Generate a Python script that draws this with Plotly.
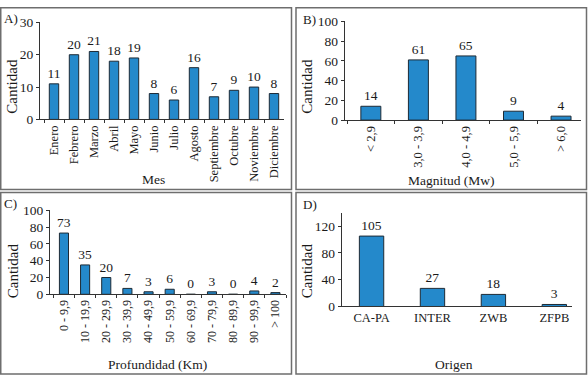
import plotly.graph_objects as go

W, H = 588, 383

# ---- data ----
meses = ["Enero", "Febrero", "Marzo", "Abril", "Mayo", "Junio", "Julio", "Agosto",
         "Septiembre", "Octubre", "Noviembre", "Diciembre"]
cant_mes = [11, 20, 21, 18, 19, 8, 6, 16, 7, 9, 10, 8]

magnitudes = ["< 2,9", "3,0 - 3,9", "4,0 - 4,9", "5,0 - 5,9", "> 6,0"]
cant_mag = [14, 61, 65, 9, 4]

profundidades = ["0 - 9,9", "10 - 19,9", "20 - 29,9", "30 - 39,9", "40 - 49,9", "50 - 59,9",
                 "60 - 69,9", "70 - 79,9", "80 - 89,9", "90 - 99,9", "> 100"]
cant_prof = [73, 35, 20, 7, 3, 6, 0, 3, 0, 4, 2]

origenes = ["CA-PA", "INTER", "ZWB", "ZFPB"]
cant_orig = [105, 27, 18, 3]

FONT = "Liberation Serif"
BAR = "#2489cb"
EDGE = "#1d2a35"
TXT = "#1a1a1a"

def px(x):
    return x / W

def py(y):
    return 1 - y / H

fig = go.Figure()

panels = [
    dict(cats=meses, vals=cant_mes, xd=(40, 284), yd=(16, 117), xr=[-0.7, 11.5], yr=[0, 30],
         dt=10, bw=0.47, ang=-90, xt="outside", tf=12.5),
    dict(cats=magnitudes, vals=cant_mag, xd=(344.7, 581), yd=(15, 117.7), xr=[-0.55, 4.42], yr=[0, 100],
         dt=20, bw=0.42, ang=-90, xt="outside", tf=12.5),
    dict(cats=profundidades, vals=cant_prof, xd=(50, 286), yd=(211.7, 299), xr=[-0.66, 10.5], yr=[0, 100],
         dt=20, bw=0.43, ang=-90, xt="outside", tf=12),
    dict(cats=origenes, vals=cant_orig, xd=(341.7, 572), yd=(214, 311.7), xr=[-0.49, 3.29], yr=[0, 140],
         dt=40, bw=0.40, ang=0, xt="", tf=12.5),
]

layout = {}
for i, p in enumerate(panels, start=1):
    xa = "x" if i == 1 else f"x{i}"
    ya = "y" if i == 1 else f"y{i}"
    fig.add_trace(go.Bar(
        x=p["cats"], y=p["vals"], xaxis=xa, yaxis=ya,
        width=p["bw"], marker=dict(color=BAR, line=dict(color=EDGE, width=1)),
        text=[str(v) for v in p["vals"]], textposition="outside", constraintext="none",
        textfont=dict(family=FONT, size=13.5, color=TXT), cliponaxis=False,
        showlegend=False, hoverinfo="skip",
    ))
    xkey = "xaxis" if i == 1 else f"xaxis{i}"
    ykey = "yaxis" if i == 1 else f"yaxis{i}"
    tickvals = list(range(p["yr"][0], p["yr"][1] + 1, p["dt"]))
    if p["yr"][1] == 140:
        tickvals = [0, 40, 80, 120]
    layout[xkey] = dict(
        domain=[px(p["xd"][0]), px(p["xd"][1])], anchor=ya, type="category",
        range=p["xr"], showline=True, linecolor="#333", linewidth=1,
        ticks=p["xt"], tickson="boundaries", ticklen=3, tickcolor="#333",
        tickangle=p["ang"], showgrid=False, zeroline=False,
        tickfont=dict(family=FONT, size=p["tf"], color=TXT),
    )
    layout[ykey] = dict(
        domain=[py(p["yd"][1]), py(p["yd"][0])], anchor=xa, range=p["yr"],
        tickvals=tickvals, showline=True, linecolor="#333", linewidth=1,
        ticks="outside", ticklen=3, tickcolor="#333", showgrid=False, zeroline=False,
        tickfont=dict(family=FONT, size=13.5, color=TXT),
    )

fig.update_layout(**layout)

# panel borders
borders = [(0.75, 0.75, 291.5, 190), (296, 0.75, 586.5, 190),
           (0.75, 193, 291.5, 382), (296, 193, 586.5, 382)]
shapes = []
for x0, y0, x1, y1 in borders:
    shapes.append(dict(type="rect", xref="paper", yref="paper",
                       x0=px(x0), x1=px(x1), y0=py(y1), y1=py(y0),
                       line=dict(color="#6e6e6e", width=1.5), fillcolor="rgba(0,0,0,0)"))

ann = []
def add_text(t, x, y, size, angle=0, xanchor="center"):
    ann.append(dict(text=t, x=px(x), y=py(y), xref="paper", yref="paper", showarrow=False,
                    xanchor=xanchor, yanchor="middle", textangle=angle,
                    font=dict(family=FONT, size=size, color=TXT)))

# panel letters
add_text("A)", 2, 12, 13, xanchor="left")
add_text("B)", 301, 13, 13, xanchor="left")
add_text("C)", 2, 204, 13, xanchor="left")
add_text("D)", 301, 206, 13, xanchor="left")
# y titles
add_text("Cantidad", 12, 83, 15, angle=-90)
add_text("Cantidad", 307, 83, 15, angle=-90)
add_text("Cantidad", 13, 275, 15, angle=-90)
add_text("Cantidad", 307, 275, 15, angle=-90)
# x titles
add_text("Mes", 153, 180, 13.5)
add_text("Magnitud (Mw)", 451, 181, 13.5)
add_text("Profundidad (Km)", 157, 372, 13.5)
add_text("Origen", 454, 372, 13.5)

fig.update_layout(
    width=W, height=H, margin=dict(l=0, r=0, t=0, b=0),
    paper_bgcolor="white", plot_bgcolor="white",
    shapes=shapes, annotations=ann, bargap=0.5,
    font=dict(family=FONT, color=TXT),
)

fig.write_html(
    "out.html",
    config={"displayModeBar": False},
    post_script="document.body.style.margin='0';document.body.style.padding='0';"
                "document.body.style.overflow='hidden';",
)
